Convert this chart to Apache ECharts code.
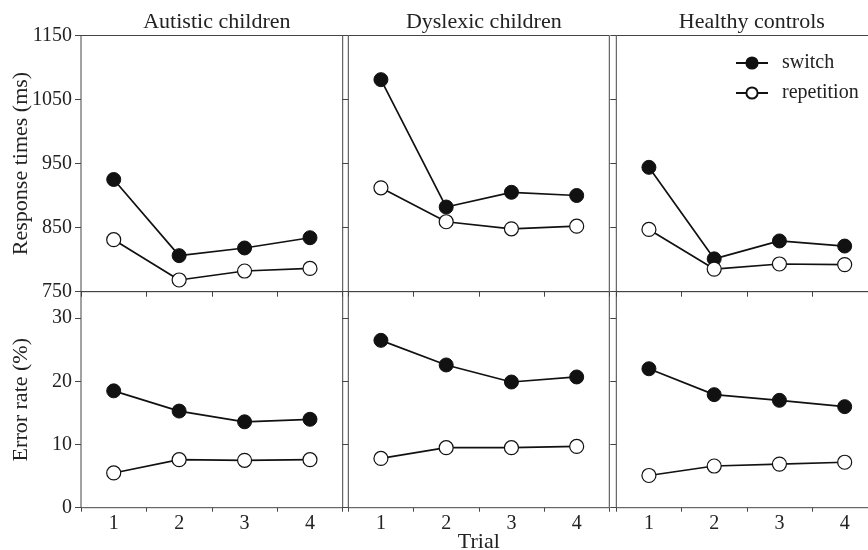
<!DOCTYPE html>
<html>
<head>
<meta charset="utf-8">
<script src="https://cdn.jsdelivr.net/npm/echarts@6/dist/echarts.min.js"></script>
<style>html,body{margin:0;padding:0;background:#fff;}#c{width:868px;height:550px;}</style>
</head>
<body>
<div id="c"></div>
<script>
const trials = ['1', '2', '3', '4'];
const groups = ['Autistic children', 'Dyslexic children', 'Healthy controls'];
const rtTicks = [750, 850, 950, 1050, 1150];
const erTicks = [0, 10, 20, 30];
// Response times (ms), per group
const rtSwitch = [[925, 806, 818, 834], [1081, 882, 905, 900], [944, 801, 829, 821]];
const rtRepetition = [[831, 768, 782, 786], [912, 859, 848, 852], [847, 785, 793, 792]];
// Error rate (%), per group
const erSwitch = [[18.5, 15.3, 13.6, 14.0], [26.5, 22.6, 19.9, 20.7], [22.0, 17.9, 17.0, 16.0]];
const erRepetition = [[5.5, 7.6, 7.5, 7.6], [7.8, 9.5, 9.5, 9.7], [5.1, 6.6, 6.9, 7.2]];

const FONT = 'Liberation Serif';
const TXT = '#222';
const LINE = '#111';
const BORDER = '#444';
const colLeft = [81, 348.3, 616.3];
const colWidth = [261.7, 261, 261];
const rowTop = [35.5, 291.7];
const rowHeight = [256, 216];

const grids = [], xAxes = [], yAxes = [], series = [], titles = [];
let gi = 0;
for (let r = 0; r < 2; r++) {
  for (let c = 0; c < 3; c++) {
    grids.push({left: colLeft[c], top: rowTop[r], width: colWidth[c], height: rowHeight[r],
      show: true, borderColor: BORDER, borderWidth: 1, containLabel: false, outerBoundsMode: 'none'});
    const isBottom = r === 1;
    xAxes.push({
      type: 'category', gridIndex: gi, data: trials, boundaryGap: true,
      axisLine: {show: false},
      axisTick: {show: isBottom, length: 4, lineStyle: {color: BORDER}},
      axisLabel: {show: isBottom, fontFamily: FONT, fontSize: 20, color: TXT, margin: 6},
      name: (isBottom && c === 1) ? 'Trial' : '',
      nameLocation: 'middle', nameGap: 24, nameMoveOverlap: false,
      nameTextStyle: {fontFamily: FONT, fontSize: 22, color: TXT}
    });
    if (isBottom) {
      xAxes.push({
        type: 'category', gridIndex: gi, data: trials, boundaryGap: true, position: 'top',
        axisLine: {show: false},
        axisTick: {show: true, inside: true, length: 5, lineStyle: {color: BORDER}},
        axisLabel: {show: false}
      });
    }
    const yBase = {
      type: 'value', gridIndex: gi,
      axisLine: {show: false},
      axisTick: {show: true, length: 6, lineStyle: {color: BORDER}},
      splitLine: {show: false},
      axisLabel: {show: c === 0, fontFamily: FONT, fontSize: 20, color: TXT, margin: 9,
        formatter: function (v) { return String(v); }},
      nameLocation: 'middle', nameGap: 49, nameMoveOverlap: false,
      nameTextStyle: {fontFamily: FONT, fontSize: 22, color: TXT}
    };
    if (!isBottom) {
      yAxes.push(Object.assign({}, yBase, {min: rtTicks[0], max: rtTicks[rtTicks.length - 1], interval: 100,
        name: c === 0 ? 'Response times (ms)' : ''}));
    } else {
      yAxes.push(Object.assign({}, yBase, {min: erTicks[0], max: 34.2, interval: 10,
        axisLabel: Object.assign({}, yBase.axisLabel, {showMaxLabel: false}),
        name: c === 0 ? 'Error rate (%)' : ''}));
    }
    const sw = isBottom ? erSwitch[c] : rtSwitch[c];
    const rp = isBottom ? erRepetition[c] : rtRepetition[c];
    const xIdx = xAxes.length - (isBottom ? 2 : 1);
    series.push({
      name: 'switch', type: 'line', xAxisIndex: xIdx, yAxisIndex: gi, data: sw,
      symbol: 'circle', symbolSize: 14, showAllSymbol: true,
      lineStyle: {color: LINE, width: 1.7},
      itemStyle: {color: LINE, borderColor: LINE, borderWidth: 1},
      emphasis: {disabled: true}, animation: false
    });
    series.push({
      name: 'repetition', type: 'line', xAxisIndex: xIdx, yAxisIndex: gi, data: rp,
      symbol: 'circle', symbolSize: 14, showAllSymbol: true,
      lineStyle: {color: LINE, width: 1.7},
      itemStyle: {color: '#fff', borderColor: LINE, borderWidth: 1.2},
      emphasis: {disabled: true}, animation: false
    });
    if (r === 0) {
      titles.push({text: groups[c], left: colLeft[c] + colWidth[c] / 2, top: 6, textAlign: 'center',
        textStyle: {fontFamily: FONT, fontSize: 22, fontWeight: 'normal', color: TXT}});
    }
    gi++;
  }
}

const chart = echarts.init(document.getElementById('c'), null, {renderer: 'canvas'});
chart.setOption({
  backgroundColor: '#fff',
  animation: false,
  title: titles,
  legend: {
    data: ['switch', 'repetition'], orient: 'vertical', left: 730, top: 48,
    itemWidth: 32, itemHeight: 14, itemGap: 10,
    textStyle: {fontFamily: FONT, fontSize: 20, color: TXT, padding: [0, 0, 0, 9]},
    selectedMode: false
  },
  grid: grids,
  xAxis: xAxes,
  yAxis: yAxes,
  series: series
});
</script>
</body>
</html>
